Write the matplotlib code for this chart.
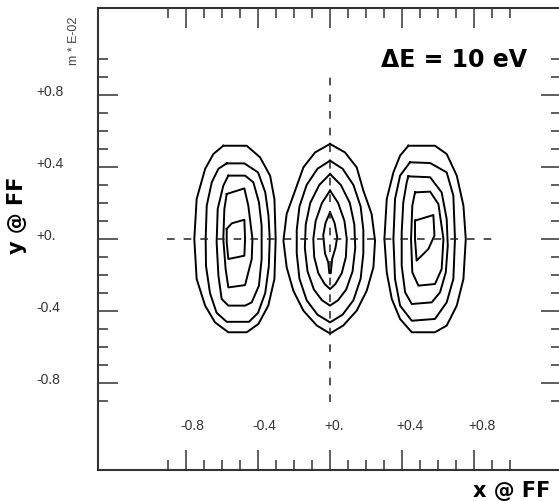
import numpy as np
import matplotlib
matplotlib.use("Agg")
import matplotlib.pyplot as plt
from matplotlib.ticker import FixedLocator

plt.rcParams['lines.scale_dashes'] = False

# contornos (coordenadas em m * E-02)
left_x = [
    [-0.593, -0.463, -0.389, -0.333, -0.309, -0.302, -0.309, -0.343, -0.398, -0.463, -0.565, -0.639, -0.694, -0.741, -0.754, -0.741, -0.694, -0.648],
    [-0.574, -0.476, -0.4, -0.36, -0.342, -0.335, -0.34, -0.36, -0.4, -0.45, -0.574, -0.63, -0.667, -0.689, -0.691, -0.685, -0.657, -0.62],
    [-0.565, -0.472, -0.426, -0.395, -0.38, -0.38, -0.395, -0.435, -0.472, -0.565, -0.602, -0.62, -0.63, -0.624, -0.593],
    [-0.574, -0.476, -0.454, -0.431, -0.435, -0.472, -0.565, -0.58, -0.593, -0.587],
    [-0.574, -0.546, -0.476, -0.472, -0.476, -0.565, -0.574],
]
left_y = [
    [0.518, 0.518, 0.454, 0.352, 0.222, 0.0, -0.222, -0.37, -0.472, -0.518, -0.518, -0.463, -0.37, -0.222, 0.0, 0.222, 0.389, 0.472],
    [0.42, 0.42, 0.37, 0.26, 0.13, 0.0, -0.15, -0.3, -0.41, -0.46, -0.46, -0.41, -0.3, -0.15, 0.0, 0.185, 0.315, 0.39],
    [0.352, 0.352, 0.315, 0.204, 0.074, -0.111, -0.259, -0.352, -0.37, -0.37, -0.333, -0.204, -0.019, 0.167, 0.296],
    [0.25, 0.281, 0.185, 0.0, -0.111, -0.256, -0.269, -0.167, 0.0, 0.167],
    [0.056, 0.087, 0.107, 0.0, -0.093, -0.111, -0.019],
]

mid_x = [
    [0, 0.083, 0.148, 0.185, 0.231, 0.25, 0.241, 0.204, 0.148, 0.074, 0, -0.074, -0.148, -0.204, -0.241, -0.259, -0.241, -0.194, -0.148, -0.083],
    [0, 0.07, 0.13, 0.17, 0.185, 0.185, 0.17, 0.13, 0.07, 0, -0.07, -0.13, -0.17, -0.185, -0.185, -0.17, -0.13, -0.07],
    [0, 0.06, 0.11, 0.135, 0.14, 0.125, 0.09, 0.045, 0, -0.045, -0.09, -0.125, -0.14, -0.135, -0.11, -0.06],
    [0, 0.045, 0.08, 0.093, 0.088, 0.065, 0.03, 0, -0.03, -0.065, -0.088, -0.093, -0.08, -0.045],
    [0, 0.025, 0.04, 0.03, 0.012, 0.004, -0.004, -0.01, -0.028, -0.038, -0.025],
]
mid_y = [
    [0.528, 0.481, 0.398, 0.269, 0.139, -0.009, -0.157, -0.287, -0.398, -0.48, -0.525, -0.48, -0.398, -0.287, -0.157, -0.009, 0.139, 0.269, 0.398, 0.481],
    [0.435, 0.39, 0.3, 0.18, 0.05, -0.08, -0.22, -0.34, -0.42, -0.463, -0.42, -0.34, -0.22, -0.08, 0.05, 0.18, 0.3, 0.39],
    [0.361, 0.3, 0.2, 0.08, -0.05, -0.18, -0.28, -0.34, -0.37, -0.34, -0.28, -0.18, -0.05, 0.08, 0.2, 0.3],
    [0.269, 0.2, 0.1, 0.0, -0.1, -0.19, -0.25, -0.278, -0.25, -0.19, -0.1, 0.0, 0.1, 0.2],
    [0.148, 0.09, 0.01, -0.05, -0.11, -0.19, -0.19, -0.13, -0.08, 0.02, 0.09],
]

right_x = [
    [0.435, 0.583, 0.648, 0.704, 0.741, 0.754, 0.741, 0.704, 0.648, 0.583, 0.454, 0.389, 0.343, 0.315, 0.302, 0.315, 0.352, 0.389],
    [0.444, 0.556, 0.648, 0.685, 0.694, 0.685, 0.648, 0.583, 0.454, 0.389, 0.361, 0.352, 0.361, 0.389],
    [0.435, 0.556, 0.62, 0.648, 0.654, 0.643, 0.611, 0.565, 0.454, 0.417, 0.398, 0.398, 0.407, 0.426],
    [0.472, 0.556, 0.602, 0.63, 0.62, 0.583, 0.491, 0.457, 0.45, 0.457],
    [0.472, 0.574, 0.58, 0.546, 0.481, 0.472],
]
right_y = [
    [0.518, 0.518, 0.472, 0.352, 0.185, 0.0, -0.222, -0.37, -0.481, -0.518, -0.518, -0.444, -0.333, -0.185, 0.0, 0.222, 0.37, 0.463],
    [0.426, 0.422, 0.37, 0.241, 0.0, -0.222, -0.352, -0.444, -0.454, -0.37, -0.222, 0.0, 0.222, 0.352],
    [0.348, 0.343, 0.259, 0.111, -0.037, -0.185, -0.296, -0.352, -0.361, -0.296, -0.148, 0.037, 0.204, 0.315],
    [0.259, 0.263, 0.194, 0.0, -0.167, -0.25, -0.259, -0.185, 0.0, 0.185],
    [0.102, 0.133, 0.019, -0.056, -0.12, 0.0],
]

major_ticks = [-0.8, -0.4, 0.0, 0.4, 0.8]
minor_ticks = [-0.9, -0.7, -0.6, -0.5, -0.3, -0.2, -0.1, 0.1, 0.2, 0.3, 0.5, 0.6, 0.7, 0.9, 1.0]
tick_labels = ['-0.8', '-0.4', '+0.', '+0.4', '+0.8']

fig = plt.figure(figsize=(5.59, 5.02), dpi=100)
ax = fig.add_axes([98 / 559, 31 / 502, 463 / 559, 462 / 502])
ax.set_xlim(-1.289, 1.283)
ax.set_ylim(-1.283, 1.283)

# contornos
for xs_all, ys_all in [(left_x, left_y), (mid_x, mid_y), (right_x, right_y)]:
    for xs, ys in zip(xs_all, ys_all):
        xs = np.append(xs, xs[0])
        ys = np.append(ys, ys[0])
        ax.plot(xs, ys, color='black', lw=1.4, solid_joinstyle='round')

# linhas tracejadas em x=0 e y=0
ax.plot([-0.905, 0.945], [0, 0], color='#222222', lw=1.1, ls=(0, (5.5, 6.5)))
ax.plot([0, 0], [-0.905, 0.945], color='#222222', lw=1.1, ls=(0, (5.5, 6.5)))

# moldura e ticks
for s in ['left', 'top', 'bottom', 'right']:
    ax.spines[s].set_linewidth(1.5)
    ax.spines[s].set_color('#333333')
for axis in [ax.xaxis, ax.yaxis]:
    axis.set_major_locator(FixedLocator(major_ticks))
    axis.set_minor_locator(FixedLocator(minor_ticks))
ax.tick_params(which='both', direction='in', top=True, right=True,
               labelbottom=False, labelleft=False, color='#333333', width=1.1)
ax.tick_params(which='major', length=14.5)
ax.tick_params(which='minor', length=7)

# rótulos dos ticks
for v, lab in zip(major_ticks, tick_labels):
    ax.text(v - 0.033, -1.033, lab, ha='left', va='center', fontsize=10,
            color='#333333', family='Liberation Sans')
    ax.text(-1.633, v + 0.022, lab, ha='left', va='center', fontsize=10,
            color='#333333', family='Liberation Sans')

ax.text(-1.422, 1.105, 'm * E-02', rotation=90, ha='center', va='center',
        fontsize=9, color='#444444', family='Liberation Sans')
ax.text(-1.739, 0.139, 'y @ FF', rotation=90, ha='center', va='center',
        fontsize=15, fontweight='bold')
ax.text(1.011, -1.394, 'x @ FF', ha='center', va='center',
        fontsize=15, fontweight='bold', clip_on=False)
ax.text(0.689, 1.0, 'ΔE = 10 eV', ha='center', va='center',
        fontsize=17, fontweight='bold')

fig.savefig('out.png', dpi=100)
